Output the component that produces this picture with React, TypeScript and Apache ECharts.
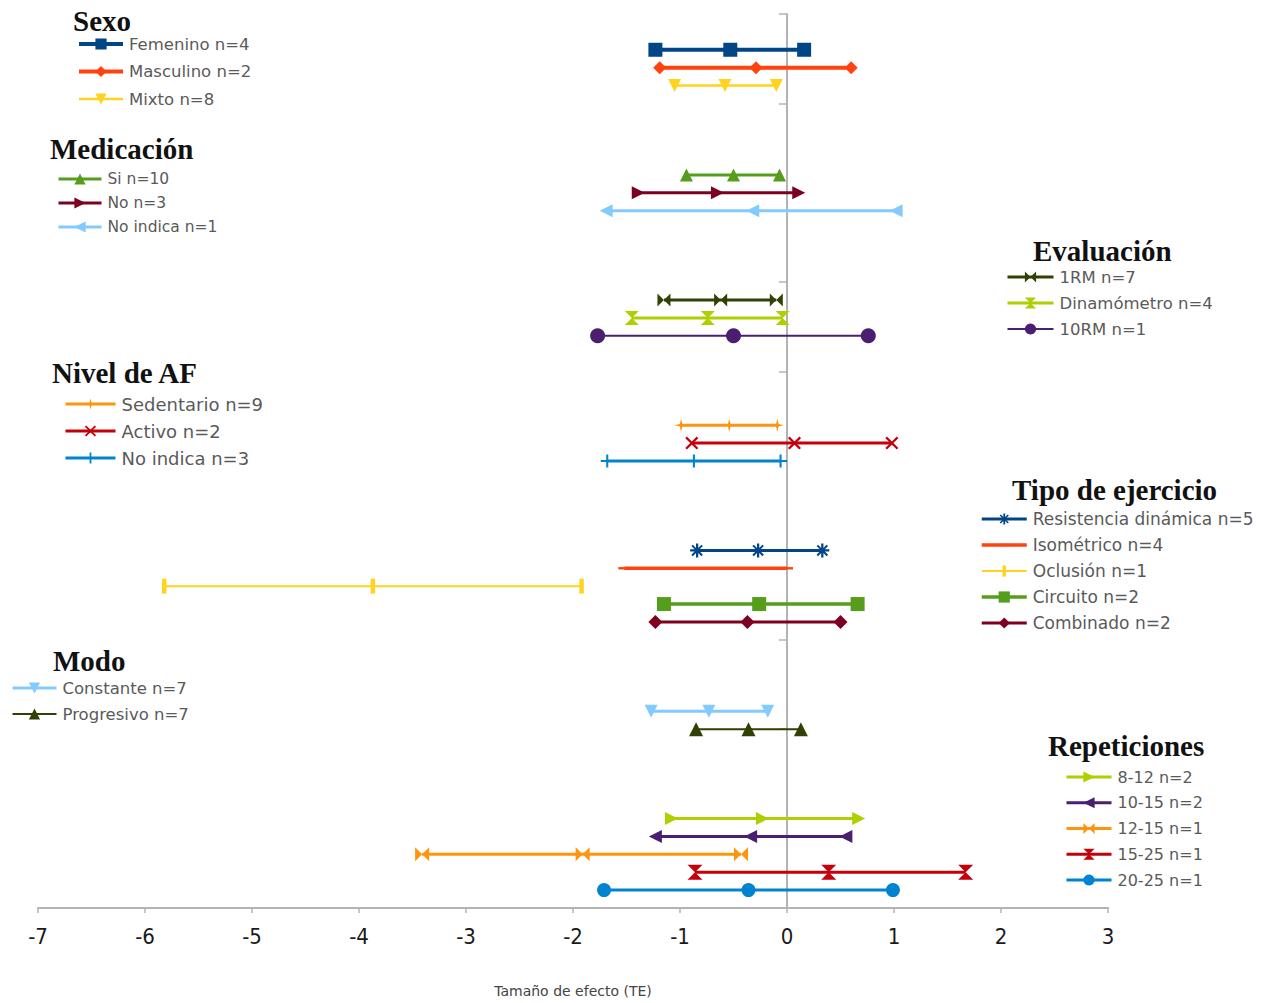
import React, { useEffect, useRef } from "react";
import * as echarts from "echarts";

// Subgroups: label, vertical position and the three effect-size values (lower, mean, upper)
const rowNames = [
  "Femenino n=4", "Masculino n=2", "Mixto n=8",
  "Si n=10", "No n=3", "No indica n=1",
  "1RM n=7", "Dinamómetro n=4", "10RM n=1",
  "Sedentario n=9", "Activo n=2", "No indica n=3",
  "Resistencia dinámica n=5", "Isométrico n=4", "Oclusión n=1", "Circuito n=2", "Combinado n=2",
  "Constante n=7", "Progresivo n=7",
  "8-12 n=2", "10-15 n=2", "12-15 n=1", "15-25 n=1", "20-25 n=1",
];
const rowY = [
  9.6, 9.4, 9.2,
  8.2, 8.0, 7.8,
  6.8, 6.6, 6.4,
  5.4, 5.2, 5.0,
  4.0, 3.8, 3.6, 3.4, 3.2,
  2.2, 2.0,
  1.0, 0.8, 0.6, 0.4, 0.2,
];
const lowVals = [
  -1.23, -1.19, -1.05,
  -0.94, -1.39, -1.69,
  -1.15, -1.45, -1.77,
  -0.99, -0.89, -1.68,
  -0.84, -1.52, -5.82, -1.15, -1.23,
  -1.27, -0.85,
  -1.08, -1.23, -3.41, -0.86, -1.71,
];
const meanVals: (number | null)[] = [
  -0.53, -0.29, -0.58,
  -0.5, -0.65, -0.32,
  -0.62, -0.74, -0.5,
  -0.54, 0.07, -0.87,
  -0.27, null, -3.87, -0.26, -0.37,
  -0.73, -0.36,
  -0.23, -0.34, -1.91, 0.39, -0.36,
];
const highVals = [
  0.16, 0.6, -0.1,
  -0.07, 0.11, 1.02,
  -0.1, -0.04, 0.76,
  -0.09, 0.98, -0.06,
  0.33, 0.0, -1.92, 0.66, 0.5,
  -0.18, 0.13,
  0.67, 0.55, -0.43, 1.67, 0.99,
];

// Legend groups
const groupTitles = ["Sexo", "Medicación", "Evaluación", "Nivel de AF", "Tipo de ejercicio", "Modo", "Repeticiones"];
const groupSizes = [3, 3, 3, 3, 5, 2, 5];

const xRange = [-7, 3];
const yRange = [0, 10];

// Styling
const palette = [
  "#004586", "#ff420e", "#ffd320", "#579d1c", "#7e0021", "#83caff",
  "#314004", "#aecf00", "#4b1f6f", "#ff950e", "#c5000b", "#0084d1",
];
const seriesSymbol = [
  "square", "diamond", "down", "up", "right", "left",
  "bowtie", "sandglass", "circle", "star", "x", "plus",
  "asterisk", "hbar", "vbar", "square", "diamond", "down",
  "up", "right", "left", "bowtie", "sandglass", "circle",
];
const seriesSymbolSize = [
  14, 13, 13, 13, 13, 13,
  13, 14, 15, 13, 13, 13,
  14, 12, 15, 14, 14, 13,
  14, 13, 13, 14, 15, 14,
];
const seriesLineWidth = [
  4, 4, 2.5, 3, 3, 3,
  3, 3, 2, 3, 3, 3,
  3, 3.5, 2, 3.5, 3, 3,
  2, 3, 3, 3, 3, 3,
];

// Marker shapes; the leading moves keep every path's box square so bars keep their proportions
const SYMBOLS: Record<string, string> = {
  square: "rect",
  diamond: "diamond",
  up: "triangle",
  down: "path://M0,0L10,0L5,10Z",
  right: "path://M0,0L10,5L0,10Z",
  left: "path://M10,0L0,5L10,10Z",
  bowtie: "path://M0,0L5,5L0,10Z M10,0L10,10L5,5Z",
  sandglass: "path://M0,0L10,0L5,5Z M5,5L10,10L0,10Z",
  circle: "circle",
  star: "path://M5,0L6,4L10,5L6,6L5,10L4,6L0,5L4,4Z",
  x: "path://M0,1.2L1.2,0L5,3.8L8.8,0L10,1.2L6.2,5L10,8.8L8.8,10L5,6.2L1.2,10L0,8.8L3.8,5Z",
  plus: "path://M4.2,0H5.8V4.2H10V5.8H5.8V10H4.2V5.8H0V4.2H4.2Z",
  asterisk:
    "path://M4.2,0H5.8V3.2L8.1,0.9L9.1,1.9L6.8,4.2H10V5.8H6.8L9.1,8.1L8.1,9.1L5.8,6.8V10H4.2V6.8L1.9,9.1L0.9,8.1L3.2,5.8H0V4.2H3.2L0.9,1.9L1.9,0.9L4.2,3.2Z",
  hbar: "path://M0,0M10,10M0,4L10,4L10,6L0,6Z",
  vbar: "path://M0,0M10,10M3.5,0L6.5,0L6.5,10L3.5,10Z",
};

// Legend block layout (left edge of the key line, centre of first row)
const legendLeft = [77, 57, 1006, 64, 980, 11, 1065];
const legendFirstY = [44, 179, 277, 404, 519, 688, 777];
const legendStep = [27.5, 24, 26, 27, 26, 26, 25.75];
const legendKeyWidth = [44, 43, 46, 50, 45, 44, 45];
const legendFontSize = [16.5, 15.5, 16.5, 18, 17, 16.5, 16];
const titleX = [73, 50, 1033, 52, 1012, 53, 1048];
const titleY = [21, 149, 251, 373, 490, 661, 746];

const SANS = "'DejaVu Sans', 'Liberation Sans', sans-serif";
const NARROW = "'Liberation Sans Narrow', 'DejaVu Sans Condensed', 'Liberation Sans', sans-serif";
const SERIF = "'Liberation Serif', 'DejaVu Serif', serif";

export default function App() {
  const ref = useRef<HTMLDivElement>(null);

  useEffect(() => {
    if (!ref.current) return;
    const chart = echarts.init(ref.current, undefined, { renderer: "svg" });

    const series = rowNames.map((name, i) => {
      const color = palette[i % palette.length];
      const xs = [lowVals[i], meanVals[i], highVals[i]].filter((v) => v !== null) as number[];
      return {
        name,
        type: "line",
        data: xs.map((v) => [v, rowY[i]]),
        symbol: SYMBOLS[seriesSymbol[i]],
        symbolSize: seriesSymbolSize[i],
        showSymbol: true,
        lineStyle: { color, width: seriesLineWidth[i] },
        itemStyle: { color, borderWidth: 0 },
        emphasis: { disabled: true },
        z: 3,
      };
    });

    const legends: any[] = [];
    let start = 0;
    groupSizes.forEach((size, g) => {
      const names = rowNames.slice(start, start + size);
      start += size;
      const itemHeight = 14;
      // each row is as tall as its text, so the gap is what remains of the row pitch
      const rowHeight = Math.max(itemHeight, Math.ceil(legendFontSize[g]));
      legends.push({
        data: names,
        orient: "vertical",
        left: legendLeft[g],
        top: legendFirstY[g] - rowHeight / 2,
        itemWidth: legendKeyWidth[g],
        itemHeight,
        itemGap: legendStep[g] - rowHeight,
        padding: 0,
        selectedMode: false,
        lineStyle: { width: "inherit" },
        textStyle: {
          fontFamily: SANS,
          fontSize: legendFontSize[g],
          color: "#5a5a5a",
          padding: [0, 0, 0, 1],
        },
      });
    });

    const graphic = groupTitles.map((t, g) => ({
      type: "text",
      x: titleX[g],
      y: titleY[g],
      silent: true,
      style: {
        text: t,
        fill: "#111111",
        font: `bold 29px ${SERIF}`,
        verticalAlign: "middle",
        align: "left",
      },
    }));

    chart.setOption({
      animation: false,
      backgroundColor: "#ffffff",
      grid: { left: 38, top: 14, width: 1070, height: 899, containLabel: false },
      xAxis: {
        type: "value",
        min: xRange[0],
        max: xRange[1],
        interval: 1,
        name: "Tamaño de efecto (TE)",
        nameLocation: "middle",
        nameGap: 76,
        nameTextStyle: { fontFamily: SANS, fontSize: 14, color: "#444444" },
        axisLine: { show: true, onZero: false, lineStyle: { color: "#b3b3b3", width: 2 } },
        axisTick: { show: true, length: 5, lineStyle: { color: "#b3b3b3", width: 1.5 } },
        axisLabel: { fontFamily: NARROW, fontSize: 22, color: "#1a1a1a", margin: 17 },
        splitLine: { show: false },
      },
      yAxis: {
        type: "value",
        min: yRange[0],
        max: yRange[1],
        interval: 1,
        axisLine: { show: true, onZero: true, lineStyle: { color: "#b3b3b3", width: 2 } },
        axisTick: { show: true, length: 8, inside: false, lineStyle: { color: "#b3b3b3", width: 1.5 } },
        axisLabel: { show: false },
        splitLine: { show: false },
      },
      legend: legends,
      graphic,
      series,
    });

    return () => chart.dispose();
  }, []);

  return (
    <div
      ref={ref}
      style={{ position: "fixed", left: 0, top: 0, width: 1271, height: 1003, background: "#fff" }}
    />
  );
}
